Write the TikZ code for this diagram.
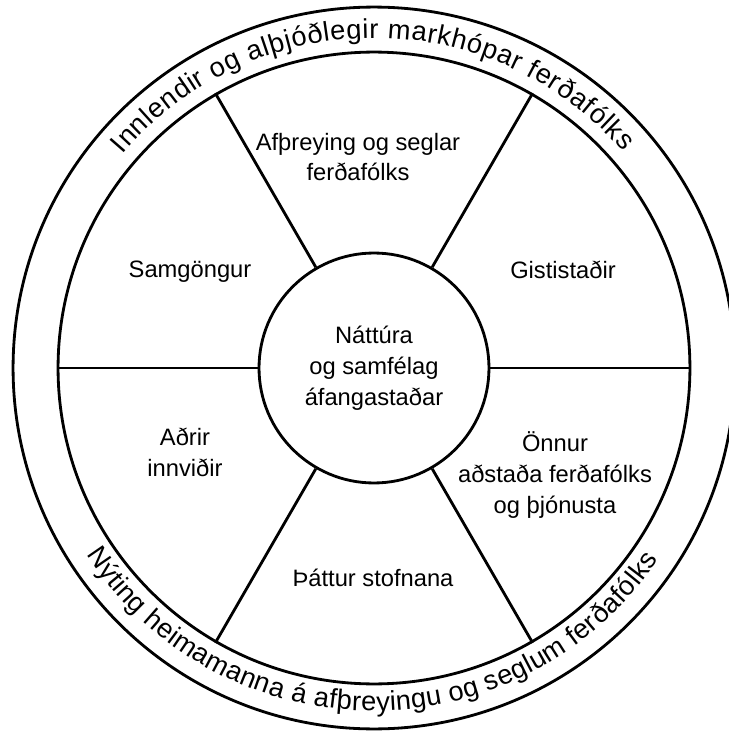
\documentclass[tikz,border=0pt]{standalone}
\usepackage{fontspec}
\setmainfont{Liberation Sans}
\usetikzlibrary{decorations.text}
\newcommand\ringfont{\fontsize{15.5pt}{18pt}\selectfont}
\begin{document}
\begin{tikzpicture}[x=0.02cm, y=0.02cm, line width=1.6pt,
  lbl/.style={font=\fontsize{13.5pt}{17.5pt}\selectfont, align=center, inner sep=0pt},
  ringcircle/.style={circle, draw, inner sep=0pt}]
\useasboundingbox (-374,-363) rectangle (355,368);
\node[ringcircle, minimum size=14.44cm] (outer) at (0,0) {};
\node[ringcircle, minimum size=12.64cm] (ring) at (0,0) {};
\node[ringcircle, minimum size=4.6cm, lbl] (core) at (0,0) {Náttúra\\og samfélag\\áfangastaðar};
\foreach \a in {0,60,...,300} \draw (core.\a) -- (ring.\a);
\node[lbl] (afth) at (-16,211) {Afþreying og seglar\\ferðafólks};
\node[lbl] (gist) at (189,98) {Gististaðir};
\node[lbl] (samg) at (-184,96) {Samgöngur};
\node[lbl] (onnur) at (181,-107) {Önnur\\aðstaða ferðafólks\\og þjónusta};
\node[lbl] (adrir) at (-189,-84) {Aðrir\\innviðir};
\node[lbl] (thattur) at (-1,-210) {Þáttur stofnana};
\path[decorate, decoration={text along path, text align=fit to path,
  text={|\ringfont|Innlendir og alþjóðlegir markhópar ferðafólks}}]
  (139.6:330) arc[start angle=139.6, end angle=41, radius=330];
\path[decorate, decoration={text along path, text align=fit to path,
  text={|\ringfont|Nýting heimamanna á afþreyingu og seglum ferðafólks}}]
  (213:343) arc[start angle=213, end angle=326, radius=343];
\end{tikzpicture}
\end{document}
